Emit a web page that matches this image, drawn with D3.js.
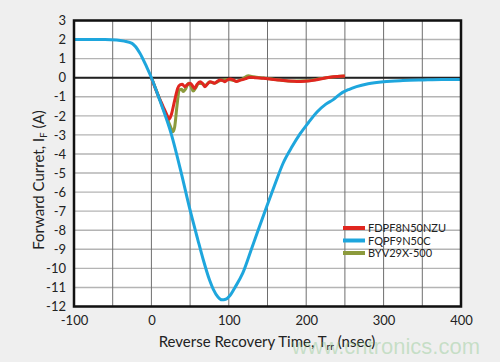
<!DOCTYPE html>
<html>
<head>
<meta charset="utf-8">
<title>Reverse recovery</title>
<script src="https://d3js.org/d3.v7.min.js"></script>
<style>
  body { margin: 0; background: #efefef; }
  text { font-family: Lato, "Open Sans", sans-serif; fill: #222; }
</style>
</head>
<body>
<script>
// data (time in ns, current in A)
var blueT = [-100, -60, -45, -35, -25, -15, -6, 0, 11, 26, 38, 50, 60, 67, 75, 80, 86, 91, 96, 101, 108, 118, 130, 149, 160, 170, 182, 192, 203, 214, 225, 235, 244, 255, 265, 280, 300, 325, 351, 375, 400];
var blueI = [2, 2, 1.98, 1.92, 1.8, 1.3, 0.55, 0, -1.2, -3.0, -4.9, -6.95, -8.5, -9.55, -10.6, -11.1, -11.5, -11.65, -11.62, -11.45, -11.0, -10.25, -8.9, -6.75, -5.55, -4.5, -3.6, -2.95, -2.35, -1.8, -1.4, -1.15, -0.85, -0.62, -0.47, -0.32, -0.21, -0.15, -0.12, -0.1, -0.1];

var redT = [0, 5, 10, 15, 20, 23, 26, 30, 34, 37, 40, 43, 47, 50, 53, 56, 59, 63, 66, 69, 72, 76, 79, 82, 85, 89, 92, 95, 98, 102, 106, 110, 114, 119, 123, 127, 135, 145, 155, 166, 177, 188, 199, 209, 220, 231, 240, 250];
var redI = [0, -0.55, -1.05, -1.5, -1.95, -2.18, -1.9, -1.2, -0.55, -0.38, -0.35, -0.47, -0.35, -0.29, -0.42, -0.56, -0.35, -0.21, -0.3, -0.47, -0.35, -0.21, -0.25, -0.29, -0.2, -0.12, -0.15, -0.21, -0.12, -0.07, -0.12, -0.2, -0.14, -0.09, -0.03, 0.03, 0.0, -0.03, -0.08, -0.12, -0.17, -0.2, -0.18, -0.14, -0.05, 0.02, 0.06, 0.09];

var oliveT = [0, 10, 15, 20, 24, 28, 30, 33, 36, 39, 41, 44, 48, 51, 54, 57, 61, 65, 70, 75, 82, 90, 100, 110, 118, 125, 132, 145, 160, 180, 200, 220, 240, 250];
var oliveI = [0, -1.05, -1.6, -2.1, -2.5, -2.83, -2.6, -1.5, -0.64, -0.6, -0.73, -0.6, -0.29, -0.45, -0.7, -0.55, -0.29, -0.3, -0.4, -0.22, -0.28, -0.13, -0.1, -0.18, -0.06, 0.1, 0.05, -0.02, -0.1, -0.18, -0.16, -0.04, 0.06, 0.09];

var seriesNames = ["FDPF8N50NZU", "FQPF9N50C", "BYV29X-500"];
var seriesColors = ["#e0261f", "#1ea6dd", "#8c9a3c"];

var xTicks = [-100, 0, 100, 200, 300, 400];
var yTicks = [3, 2, 1, 0, -1, -2, -3, -4, -5, -6, -7, -8, -9, -10, -11, -12];

var W = 500, H = 362;
var plotL = 74, plotR = 461, plotT = 20.5, plotB = 306.5;

var svg = d3.select('body').append('svg')
  .attr('width', W).attr('height', H);

svg.append('rect').attr('width', W).attr('height', H).attr('fill', '#efefef');

var x = d3.scaleLinear().domain([-100, 400]).range([plotL, plotR]);
var y = d3.scaleLinear().domain([-12, 3]).range([plotB, plotT]);

svg.append('rect')
  .attr('x', plotL).attr('y', plotT)
  .attr('width', plotR - plotL).attr('height', plotB - plotT)
  .attr('fill', '#fff');

// grid lines
svg.append('g')
  .selectAll('line')
  .data(yTicks)
  .enter().append('line')
  .attr('x1', plotL).attr('x2', plotR)
  .attr('y1', function(d){ return y(d) }).attr('y2', function(d){ return y(d) })
  .attr('stroke', '#b4b4b4').attr('stroke-width', 1.4);

svg.append('g')
  .selectAll('line')
  .data(d3.range(-50, 400, 50))
  .enter().append('line')
  .attr('y1', plotT).attr('y2', plotB)
  .attr('x1', function(d){ return x(d) }).attr('x2', function(d){ return x(d) })
  .attr('stroke', '#6e6e6e').attr('stroke-width', 1);

// zero line
svg.append('line')
  .attr('x1', plotL).attr('x2', plotR)
  .attr('y1', y(0)).attr('y2', y(0))
  .attr('stroke', '#222').attr('stroke-width', 2);

// axes (labels only)
var yAxis = svg.append('g')
  .attr('transform', 'translate(' + plotL + ',0)')
  .call(d3.axisLeft(y).tickValues(yTicks).tickSize(0).tickPadding(8)
    .tickFormat(function(d){ return String(d) }));
var xAxis = svg.append('g')
  .attr('transform', 'translate(0,' + plotB + ')')
  .call(d3.axisBottom(x).tickValues(xTicks).tickSize(0).tickPadding(9)
    .tickFormat(function(d){ return String(d) }));
[yAxis, xAxis].forEach(function(a){
  a.select('.domain').remove();
  a.selectAll('text').style('font-size', '13px').style('font-family', 'Lato, sans-serif').attr('fill', '#222');
});

// curves
var line = d3.line()
  .x(function(d){ return x(d[0]) })
  .y(function(d){ return y(d[1]) })
  .curve(d3.curveMonotoneX);

function pairs(ts, vs){ return ts.map(function(t, i){ return [t, vs[i]] }) }

svg.append('path').datum(pairs(oliveT, oliveI))
  .attr('d', line).attr('fill', 'none')
  .attr('stroke', seriesColors[2]).attr('stroke-width', 3);
svg.append('path').datum(pairs(redT, redI))
  .attr('d', line).attr('fill', 'none')
  .attr('stroke', seriesColors[0]).attr('stroke-width', 3);
svg.append('path').datum(pairs(blueT, blueI))
  .attr('d', line).attr('fill', 'none')
  .attr('stroke', seriesColors[1]).attr('stroke-width', 3);

// frame
svg.append('rect')
  .attr('x', plotL).attr('y', plotT)
  .attr('width', plotR - plotL).attr('height', plotB - plotT)
  .attr('fill', 'none').attr('stroke', '#111').attr('stroke-width', 2.5);

// legend
var legend = svg.append('g').attr('transform', 'translate(343,228)');
seriesNames.forEach(function(name, i){
  var g = legend.append('g').attr('transform', 'translate(0,' + (i * 12.5) + ')');
  g.append('line').attr('x1', 0).attr('x2', 22).attr('y1', 0).attr('y2', 0)
    .attr('stroke', seriesColors[i]).attr('stroke-width', 4);
  g.append('text').attr('x', 25).attr('y', 4)
    .style('font-size', '11px').text(name);
});

// axis titles
var xt = svg.append('text')
  .attr('x', 267).attr('y', 347)
  .attr('text-anchor', 'middle')
  .style('font-size', '15px');
xt.append('tspan').text('Reverse Recovery Time, T');
xt.append('tspan').attr('dy', 3).style('font-size', '10px').text('rr');
xt.append('tspan').attr('dy', -3).text(' (nsec)');

var yt = svg.append('text')
  .attr('transform', 'translate(44,180) rotate(-90)')
  .attr('text-anchor', 'middle')
  .style('font-size', '15px');
yt.append('tspan').text('Forward Curret, I');
yt.append('tspan').attr('dy', 3).style('font-size', '10px').text('F');
yt.append('tspan').attr('dy', -3).text(' (A)');

// watermark
svg.append('text')
  .attr('x', 480).attr('y', 354)
  .attr('text-anchor', 'end')
  .style('font-family', '"Liberation Sans", Arial, sans-serif')
  .style('font-size', '22px')
  .style('fill', 'rgba(120,190,120,0.35)')
  .text('www.cntronics.com');
</script>
</body>
</html>
